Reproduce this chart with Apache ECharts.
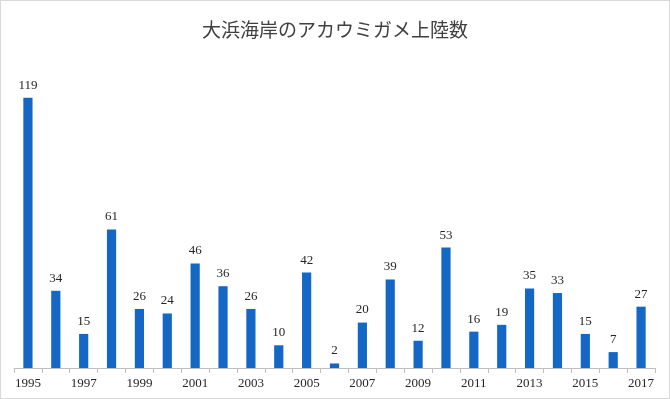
<!DOCTYPE html>
<html>
<head>
<meta charset="utf-8">
<script src="https://cdn.jsdelivr.net/npm/echarts@6/dist/echarts.min.js"></script>
<style>
  html, body { margin: 0; padding: 0; background: #fff; }
  #chart { width: 668px; height: 397px; border: 1px solid #d9d9d9; }
</style>
</head>
<body>
<div id="chart"></div>
<script>
// 大浜海岸のアカウミガメ上陸数
const years = ['1995', '1996', '1997', '1998', '1999', '2000', '2001', '2002', '2003', '2004', '2005', '2006',
  '2007', '2008', '2009', '2010', '2011', '2012', '2013', '2014', '2015', '2016', '2017'];
const landings = [119, 34, 15, 61, 26, 24, 46, 36, 26, 10, 42, 2, 20, 39, 12, 53, 16, 19, 35, 33, 15, 7, 27];

const chart = echarts.init(document.getElementById('chart'));

chart.setOption({
  animation: false,
  title: {
    text: '大浜海岸のアカウミガメ上陸数',
    left: 'center',
    top: 14,
    textStyle: { fontFamily: 'Noto Sans CJK JP', fontSize: 19, fontWeight: 'normal', color: '#404040' },
  },
  grid: { left: 13, right: 14, top: 49, bottom: 30 },
  xAxis: {
    type: 'category',
    data: years,
    axisLine: { lineStyle: { color: '#bfbfbf' } },
    axisTick: { show: true, interval: 0, length: 5, lineStyle: { color: '#bfbfbf' } },
    axisLabel: {
      interval: 1,
      color: '#262626',
      fontFamily: 'Liberation Serif',
      fontSize: 13,
      margin: 9,
    },
  },
  yAxis: {
    type: 'value',
    min: 0,
    max: 140,
    show: false,
  },
  series: [{
    type: 'bar',
    data: landings,
    barWidth: '33%',
    itemStyle: { color: '#1467c4' },
    label: {
      show: true,
      position: 'top',
      distance: 6,
      color: '#262626',
      fontFamily: 'Liberation Serif',
      fontSize: 13,
    },
  }],
});
</script>
</body>
</html>
